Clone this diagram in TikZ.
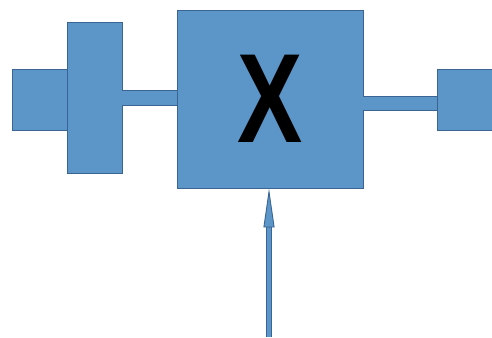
\documentclass[tikz,border=0pt]{standalone}
\usepackage{fontspec}
\newfontfamily\markfont[FakeStretch=0.77]{Liberation Sans}
\usetikzlibrary{arrows.meta,positioning}
\definecolor{partfill}{RGB}{92,150,200}
\definecolor{partedge}{RGB}{58,100,145}

\begin{document}
\begin{tikzpicture}[x=1pt, y=-1pt,
  part/.style={draw=partedge, fill=partfill, line width=0.9pt, inner sep=0pt},
  shaft/.style={draw=partedge, line width=0.9pt, double=partfill}]
  \useasboundingbox (0,0) rectangle (492,337);

  % left end: cap and flange
  \node[part, minimum width=55pt, minimum height=61pt] (cap) at (39.5,99.5) {};
  \node[part, minimum width=55pt, minimum height=151pt] (flange) at (94.5,97.5) {};

  % main block
  \node[part, minimum width=186pt, minimum height=178pt,
    font=\markfont\bfseries\fontsize{127}{127}\selectfont] (block) at (270,99) {X};

  % right end
  \node[part, minimum width=66pt, minimum height=61pt] (stub) at (470,99.5) {};

  % shafts
  \draw[shaft, double distance=14.2pt] (flange.east |- 0,98) -- (block.west |- 0,98);
  \draw[shaft, double distance=13.2pt] (block.east |- 0,103.5) -- (stub.west |- 0,103.5);

  % input arrow from below
  \coordinate (feed) at (269,337);
  \coordinate (headbase) at (269,227);
  \draw[shaft, double distance=4.2pt] (feed) -- (headbase);
  \draw[partedge, line width=0.9pt,
    -{Triangle[length=39pt, width=11pt, fill=partfill]}]
    (headbase) -- (block.south -| feed);
\end{tikzpicture}
\end{document}
